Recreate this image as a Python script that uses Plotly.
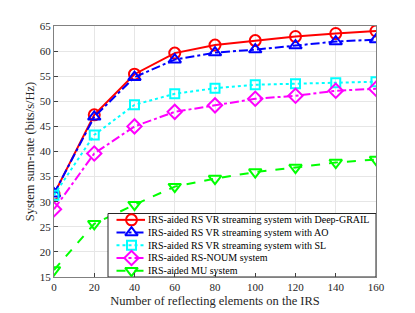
import plotly.graph_objects as go

x_vals = [0, 20, 40, 60, 80, 100, 120, 140, 160]
deep_grail = [31.5, 47.3, 55.4, 59.6, 61.2, 62.1, 62.9, 63.5, 64.0]
ao = [31.6, 46.9, 54.8, 58.3, 59.7, 60.3, 61.1, 61.9, 62.3]
sl = [31.3, 43.3, 49.3, 51.5, 52.6, 53.3, 53.5, 53.7, 53.9]
noum = [28.5, 39.6, 45.0, 47.9, 49.2, 50.5, 51.1, 52.1, 52.5]
mu = [16.4, 25.6, 29.4, 33.0, 34.6, 35.9, 36.8, 37.8, 38.4]

names = [
    "IRS-aided RS VR streaming system with Deep-GRAIL",
    "IRS-aided RS VR streaming system with AO",
    "IRS-aided RS VR streaming system with SL",
    "IRS-aided RS-NOUM system",
    "IRS-aided MU system",
]
series = [deep_grail, ao, sl, noum, mu]
colors = ["#ff0000", "#0000ff", "#00ffff", "#ff00ff", "#00ff00"]
dashes = ["solid", "dashdot", "dot", "dashdot", "dash"]
symbols = ["circle-open", "triangle-up-open", "square-open", "diamond-open", "triangle-down-open"]
sizes = [11, 11, 9, 11, 11]

# layout geometry (screen pixels; page body has an 8px margin)
W, H = 415, 313
OFF = 8
SX0, SX1, SY0, SY1 = 54, 376, 24, 277
L, T = SX0 - OFF, SY0 - OFF
R, B = W - (SX1 - OFF), H - (SY1 - OFF)

fig = go.Figure()
for n, s, c, d, sym, sz in zip(names, series, colors, dashes, symbols, sizes):
    fig.add_trace(go.Scatter(
        x=x_vals, y=s, name=n, mode="lines+markers", showlegend=False,
        line=dict(color=c, width=2, dash=d),
        marker=dict(symbol=sym, size=sz, color=c, line=dict(width=2, color=c)),
    ))

# custom compact legend drawn on an overlay screen-pixel axis
lg_left, lg_right, lg_top, lg_bottom = 108, SX1, 213, SY1
row_h = (lg_bottom - lg_top) / 5.0
fig.add_trace(go.Scatter(
    x=[lg_left, lg_right, lg_right, lg_left, lg_left],
    y=[lg_top, lg_top, lg_bottom, lg_bottom, lg_top],
    mode="lines", fill="toself", fillcolor="white",
    line=dict(color="#262626", width=1), showlegend=False, hoverinfo="skip",
    xaxis="x2", yaxis="y2", cliponaxis=False,
))
annotations = []
for i, (n, c, d, sym, sz) in enumerate(zip(names, colors, dashes, symbols, sizes)):
    yc = lg_top + row_h * (i + 0.5)
    fig.add_trace(go.Scatter(
        x=[lg_left + 8.5, lg_left + 37], y=[yc, yc], mode="lines",
        line=dict(color=c, width=2, dash=d), showlegend=False, hoverinfo="skip",
        xaxis="x2", yaxis="y2",
    ))
    fig.add_trace(go.Scatter(
        x=[lg_left + 23.5], y=[yc], mode="markers",
        marker=dict(symbol=sym, size=sz, color=c, line=dict(width=2, color=c)),
        showlegend=False, hoverinfo="skip", xaxis="x2", yaxis="y2",
    ))
    annotations.append(dict(
        x=lg_left + 39, y=yc, xref="x2", yref="y2", text=n, showarrow=False,
        xanchor="left", yanchor="middle", font=dict(size=10, color="#000000"),
        borderpad=0,
    ))

axis_common = dict(
    showline=True, linecolor="#808080", linewidth=1, mirror=True,
    ticks="inside", ticklen=4, tickcolor="#404040",
    showgrid=True, gridcolor="#e6e6e6", gridwidth=1,
    zeroline=False, tickfont=dict(size=11, color="#262626"),
)

fig.update_layout(
    width=W, height=H,
    margin=dict(l=L, r=R, t=T, b=B),
    paper_bgcolor="white", plot_bgcolor="white",
    font=dict(family="Liberation Serif, Times New Roman, serif", color="#262626"),
    xaxis=dict(range=[0, 160], tickvals=[0, 20, 40, 60, 80, 100, 120, 140, 160],
               title=dict(text="Number of reflecting elements on the IRS", font=dict(size=12.5), standoff=4),
               **axis_common),
    yaxis=dict(range=[15, 65], tickvals=[15, 20, 25, 30, 35, 40, 45, 50, 55, 60, 65],
               title=dict(text="System sum-rate (bits/s/Hz)", font=dict(size=12.5), standoff=2),
               **axis_common),
    xaxis2=dict(overlaying="x", range=[SX0, SX1], visible=False, fixedrange=True),
    yaxis2=dict(overlaying="y", range=[SY1, SY0], visible=False, fixedrange=True),
    annotations=annotations,
    showlegend=False,
)

fig.write_html("out.html")
